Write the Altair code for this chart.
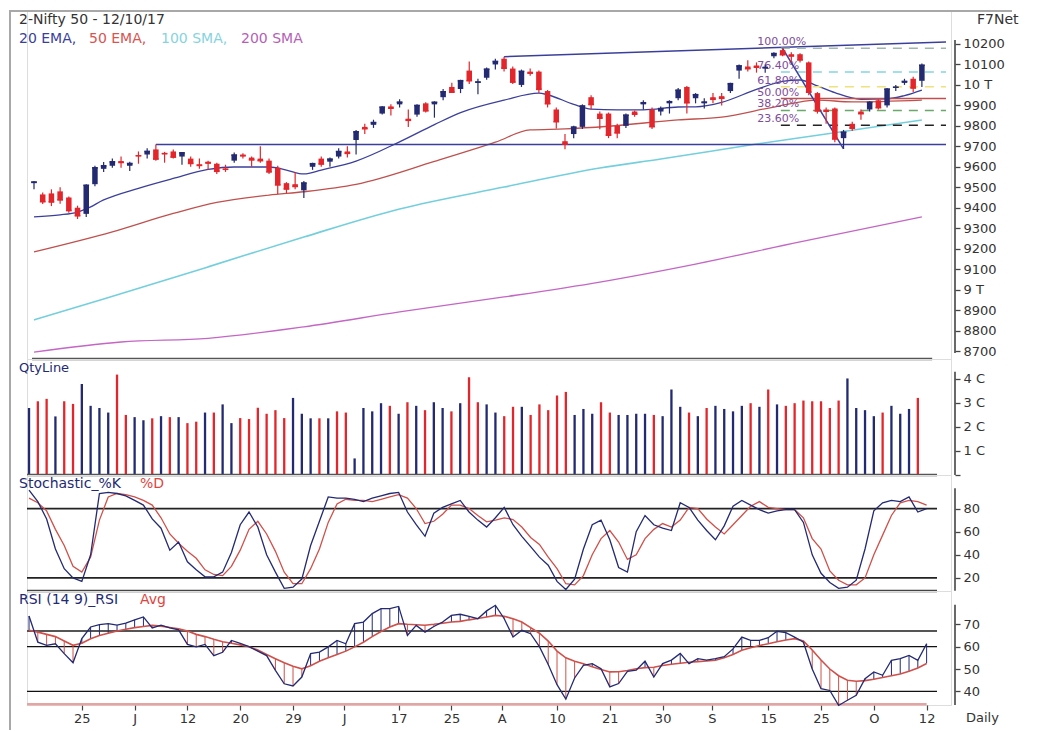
import altair as alt
import pandas as pd

FONT = "DejaVu Sans"
DARK = "#232a72"
RED = "#e3262b"
TXT = "#333333"

# ---------------- data ----------------
opens = [9520, 9465, 9470, 9480, 9450, 9400, 9370, 9515, 9590, 9605,
         9628, 9605, 9656, 9660, 9685, 9668, 9675, 9650, 9640, 9612,
         9625, 9615, 9590, 9630, 9660, 9645, 9640, 9630, 9595, 9520,
         9515, 9485, 9600, 9640, 9625, 9650, 9675, 9731, 9795, 9805,
         9860, 9895, 9905, 9835, 9855, 9910, 9905, 9940, 9990, 9980,
         10070, 10010, 10035, 10100, 10128, 10080, 10000, 10065, 10065, 9970,
         9880, 9725, 9760, 9795, 9940, 9860, 9860, 9800, 9800, 9870,
         9905, 9880, 9870, 9910, 9935, 9990, 9935, 9910, 9940, 9945,
         9970, 10070, 10090, 10095, 10080, 10140, 10170, 10150, 10150, 10110,
         9960, 9880, 9885, 9740, 9810, 9870, 9880, 9925, 9900, 9985,
         10010, 10030, 10020]
highs = [9530, 9475, 9490, 9500, 9455, 9410, 9515, 9605, 9624, 9640,
         9650, 9625, 9675, 9690, 9709, 9673, 9685, 9672, 9650, 9640,
         9630, 9620, 9610, 9670, 9666, 9650, 9700, 9640, 9605, 9525,
         9575, 9530, 9620, 9650, 9645, 9690, 9700, 9780, 9810, 9830,
         9897, 9905, 9930, 9880, 9905, 9915, 9920, 9980, 10011, 10025,
         10114, 10030, 10085, 10128, 10137.85, 10090, 10075, 10080, 10070, 9975,
         9890, 9760, 9800, 9905, 9950, 9870, 9865, 9810, 9860, 9875,
         9925, 9890, 9895, 9925, 9985, 9995, 9960, 9935, 9960, 9960,
         10010, 10100, 10120, 10110, 10100, 10160, 10178.95, 10160, 10155, 10115,
         9965, 9890, 9890, 9780, 9820, 9880, 9920, 9930, 9985, 10000,
         10030, 10040, 10105]
lows = [9490, 9418, 9408, 9420, 9375, 9345, 9355, 9505, 9575, 9595,
        9595, 9580, 9615, 9640, 9630, 9620, 9640, 9610, 9600, 9590,
        9585, 9565, 9575, 9620, 9640, 9600, 9620, 9565, 9467, 9470,
        9490, 9448, 9585, 9600, 9600, 9640, 9645, 9660, 9760, 9790,
        9855, 9850, 9890, 9795, 9845, 9865, 9840, 9925, 9960, 9960,
        10005, 9955, 10025, 10075, 10065, 10005, 9990, 10045, 9960, 9890,
        9787, 9685.55, 9740, 9785, 9880, 9783, 9740, 9740, 9790, 9845,
        9880, 9785, 9850, 9860, 9925, 9860, 9910, 9885, 9910, 9900,
        9960, 10030, 10065, 10060, 10060, 10130, 10140, 10110, 10110, 9950,
        9860, 9810, 9720, 9687.55, 9775, 9830, 9870, 9880, 9890, 9970,
        10000, 9965, 9990]
closes = [9525.75, 9429.45, 9427.90, 9438.25, 9386.15, 9360.55, 9509.75, 9595.10, 9604.90, 9624.55,
          9621.25, 9616.10, 9653.50, 9675.10, 9637.60, 9663.80, 9647.25, 9668.25, 9616.40, 9606.90,
          9618.15, 9578.05, 9588.05, 9657.55, 9653.50, 9633.60, 9630.00, 9574.95, 9511.40, 9491.25,
          9504.10, 9520.90, 9615.00, 9613.30, 9637.60, 9674.55, 9665.80, 9771.05, 9786.05, 9816.10,
          9891.70, 9886.35, 9915.95, 9827.15, 9899.60, 9873.30, 9915.25, 9966.40, 9964.55, 10020.65,
          10020.55, 10014.50, 10077.10, 10114.65, 10081.50, 10013.65, 10066.40, 10057.40, 9978.55, 9908.05,
          9820.25, 9710.80, 9794.15, 9897.30, 9904.15, 9837.40, 9754.35, 9765.55, 9852.50, 9857.05,
          9912.80, 9796.05, 9884.40, 9917.90, 9974.40, 9912.85, 9952.20, 9916.20, 9929.90, 9934.80,
          10006.05, 10093.05, 10079.30, 10086.60, 10085.40, 10153.10, 10147.55, 10141.15, 10121.90, 9964.40,
          9872.60, 9871.50, 9735.75, 9768.95, 9788.60, 9859.50, 9914.90, 9888.70, 9979.70, 9988.75,
          10016.95, 9984.80, 10096.40]

# volume (crore) and up(1)/down(0) colour flag, read per bar
volume = [2.79, 3.07, 3.17, 2.44, 3.07, 2.96, 3.79, 2.88, 2.79, 2.60,
          4.18, 2.50, 2.41, 2.28, 2.36, 2.45, 2.41, 2.41, 2.16, 2.22,
          2.60, 2.60, 2.94, 2.16, 2.37, 2.33, 2.80, 2.55, 2.70, 2.37,
          3.21, 2.55, 2.36, 2.36, 2.36, 2.65, 2.60, 0.69, 2.79, 2.65,
          2.99, 2.88, 2.55, 3.03, 2.88, 2.70, 3.03, 2.79, 2.65, 2.99,
          4.07, 3.03, 2.94, 2.60, 2.45, 2.84, 2.84, 2.50, 2.94, 2.70,
          3.31, 3.46, 2.50, 2.75, 2.55, 3.03, 2.60, 2.50, 2.50, 2.55,
          2.55, 2.50, 2.45, 3.56, 2.84, 2.60, 2.45, 2.79, 2.88, 2.75,
          2.65, 2.88, 2.99, 2.84, 3.56, 2.94, 2.88, 2.99, 3.10, 3.07,
          3.07, 2.79, 3.10, 4.02, 2.79, 2.70, 2.45, 2.60, 2.88, 2.55,
          2.75, 3.21]
vol_up = [1, 0, 0, 1, 0, 0, 1, 1, 1, 1,
          0, 0, 1, 1, 0, 1, 0, 1, 0, 0,
          1, 0, 1, 1, 0, 0, 0, 0, 0, 0,
          1, 1, 1, 0, 1, 0, 0, 1, 1, 1,
          1, 0, 1, 0, 1, 0, 1, 1, 0, 1,
          0, 0, 1, 1, 0, 0, 1, 0, 0, 0,
          0, 0, 1, 1, 1, 0, 0, 1, 1, 1,
          1, 0, 1, 1, 1, 0, 1, 0, 1, 1,
          1, 1, 0, 1, 0, 1, 0, 0, 0, 0,
          0, 0, 0, 1, 1, 1, 1, 0, 1, 1,
          1, 0]

stoch_k = [96, 86, 71, 45, 28, 20, 17, 40, 93, 94,
           93, 91, 87, 83, 71, 63, 44, 51, 34, 27,
           21, 21, 25, 42, 66, 77, 64, 40, 25, 11,
           12, 19, 48, 69, 90, 89, 89, 88, 86, 89,
           91, 93, 94, 77, 66, 56, 76, 81, 84, 87,
           77, 70, 64, 72, 81, 66, 56, 47, 38, 31,
           17, 10, 19, 45, 66, 70, 53, 29, 25, 60,
           74, 66, 63, 61, 85, 81, 70, 61, 53, 65,
           82, 87, 83, 79, 76, 78, 79, 79, 68, 40,
           24, 16, 11, 12, 18, 45, 78, 85, 87, 86,
           90, 77, 80]
stoch_d = [89, 85, 78, 62, 48, 30, 25, 38, 70, 90,
           93, 92, 90, 87, 83, 72, 58, 50, 43, 37,
           27, 23, 22, 30, 44, 62, 69, 58, 43, 25,
           15, 15, 28, 45, 68, 84, 88, 87, 87, 86,
           88, 90, 92, 89, 80, 67, 69, 75, 83, 83,
           80, 74, 68.5, 70, 72, 70.5, 64, 55, 49, 38,
           28, 15, 14, 22, 40, 54, 61, 51, 36, 40,
           54, 62, 67, 64, 70, 81, 80, 71, 64, 58,
           66, 74, 82, 86, 81, 80, 79, 79, 72, 54,
           45, 26, 18, 14, 14, 20, 40, 57, 74, 85,
           87, 86, 83]

rsi = [73.7, 62, 60.6, 61.3, 56.9, 52.8, 63.6, 68.8, 69.9, 70.3,
       69.6, 70.5, 72, 73.3, 68.4, 69.6, 68.4, 67.5, 61, 59.9,
       61, 56, 57.5, 62.8, 61.5, 60, 58, 56, 49.4, 43.4,
       42.4, 46.4, 56.9, 57.6, 59.9, 62.8, 61.3, 70.3, 71, 74.8,
       77, 77, 78, 65, 69.5, 66.5, 69, 71, 74, 74.5,
       73.5, 72.5, 76, 78.5, 72.5, 64.3, 67.3, 65.8, 60, 52,
       43, 36.5, 46, 51.6, 52.4, 50.1, 42, 43.5, 49, 49.5,
       53.5, 46.4, 52.4, 54, 57, 52.4, 54.6, 54, 54.6, 55.5,
       59, 64.3, 62.8, 62.8, 64, 66.9, 66.3, 64.3, 62, 50,
       41.2, 40.4, 33.7, 36, 38.2, 45.7, 48.7, 47.2, 53.9, 54.6,
       56.1, 53.9, 61.3]
rsi_avg = [67.3, 66.5, 65.5, 64.5, 62.5, 60.6, 61.5, 63.5, 65, 66,
           67, 67.8, 68.5, 69, 69.5, 69.2, 68.6, 68, 67, 65.5,
           64.5, 63.3, 62.2, 61.5, 60.8, 60, 58.5, 56.5, 54.6, 52.8,
           51.2, 50.1, 51.5, 53.5, 55, 56.5, 58, 59.9, 62, 64.5,
           66.8, 68.8, 70.3, 70, 69.8, 69.6, 70, 70.5, 71, 71.3,
           72, 72.6, 73.3, 74, 73.6, 72.5, 71, 68.5, 66, 62.5,
           58, 55, 53.5, 52.4, 51, 49.8, 48.7, 48.8, 49.3, 50.1,
           50.6, 50.8, 51.6, 52.1, 52.6, 53, 53.3, 53.6, 53.9, 55,
           56.5, 58.4, 59.5, 60.5, 61.3, 62.2, 63, 63.6, 62.5, 58.5,
           54, 50, 47, 45, 44.5, 44.8, 45.4, 46.2, 47, 47.8,
           49, 50.5, 52.5]

# moving averages, read at sample bars
ema20_i = [0, 3, 5, 6, 8, 12, 16, 20, 23, 27, 29, 31, 33, 37, 42, 46, 49, 54, 58, 59, 62, 64, 67, 70, 74, 76, 79, 83, 86, 88, 90, 92, 95, 98, 100, 102]
ema20_v = [9355, 9365, 9379, 9394, 9438, 9495, 9543, 9587, 9599, 9599, 9584, 9565, 9584, 9628, 9722, 9806, 9865, 9926, 9960, 9952, 9905, 9882, 9878, 9878, 9892, 9893, 9915, 9978, 10017, 10024, 9995, 9962, 9930, 9932, 9948, 9975]
ema50_i = [0, 9, 16, 21, 27, 31, 37, 46, 53, 57, 61, 66, 74, 79, 85, 90, 94, 102]
ema50_v = [9184, 9282, 9372, 9426, 9462, 9478, 9514, 9626, 9720, 9780, 9785, 9798, 9829, 9843, 9892, 9926, 9917, 9926]
sma100_i = [0, 8, 20, 31, 42, 54, 65, 72, 83, 91, 102]
sma100_v = [8852, 8954, 9111, 9257, 9394, 9501, 9594, 9638, 9711, 9760, 9829]
sma200_i = [0, 10, 20, 31, 42, 54, 65, 76, 88, 102]
sma200_v = [8695, 8744, 8762, 8818, 8891, 8964, 9037, 9125, 9233, 9355]

# Fibonacci retracement (low 9687.55 -> high 10178.95)
fib_names = ["100.00%", "76.40%", "61.80%", "50.00%", "38.20%", "23.60%"]
fib_price = [10178.95, 10063.0, 9991.2, 9933.25, 9875.3, 9803.5]
fib_color = ["#9fb8aa", "#86d4e0", "#efe27a", "#c0504d", "#6aa86a", "#222222"]

tick_pos = [6, 12, 18, 24, 30, 35.8, 42, 48, 53.7, 60, 66, 72, 77.6, 84, 90, 96, 102]
tick_lab = ["25", "J", "12", "20", "29", "J", "17", "25", "A", "10", "21", "30", "S", "15", "25", "O", "12"]

# extent of each right-hand axis line (value range it covers)
axis_span_p = [8690, 10220]
axis_span_v = [0, 4.3]
axis_span_s = [9, 97.5]
axis_span_r = [33.9, 78.8]

# ---------------- layout constants ----------------
W = 924
XMIN, XMAX = -0.23, 104.77
XEND = 103.18
H_P, H_V, H_S, H_R = 349, 116, 116, 114
DOM_P = [8661, 10366]
DOM_V = [0, 4.83]
DOM_S = [8.7, 109]
DOM_R = [33.9, 84.9]
AXIS_X = W + 4

n = len(closes)
idx = list(range(n))


def xs(field, axis=None):
    return alt.X(f"{field}:Q", scale=alt.Scale(domain=[XMIN, XMAX], nice=False, zero=False), axis=axis)


def right_axis(values, expr):
    return alt.Axis(orient="right", values=values, labelExpr=expr, title=None, offset=4,
                    tickSize=5, labelPadding=3, grid=False, domain=False, tickColor="#444",
                    tickWidth=1.3, labelFontSize=13, labelColor=TXT, labelFont=FONT)


AX_P = right_axis(list(range(8700, 10201, 100)),
                  "datum.value == 10000 ? '10 T' : datum.value == 9000 ? '9 T' : format(datum.value, 'd')")
AX_V = right_axis([0, 1, 2, 3, 4], "datum.value == 0 ? '' : datum.value + ' C'")
AX_S = right_axis([20, 40, 60, 80], "format(datum.value, 'd')")
AX_R = right_axis([40, 50, 60, 70], "format(datum.value, 'd')")


def ys(field, dom, axis):
    return alt.Y(f"{field}:Q", scale=alt.Scale(domain=dom, nice=False, zero=False), axis=axis)


def txt(text, x, y, color, size=14, align="left"):
    return alt.Chart(pd.DataFrame({"t": [text]})).mark_text(
        align=align, baseline="middle", fontSize=size, font=FONT, color=color
    ).encode(x=alt.value(x), y=alt.value(y), text="t:N")


def frame_left(h):
    return alt.Chart(pd.DataFrame({"t": [0]})).mark_rule(color="#a8a8a8", strokeWidth=2).encode(
        x=alt.value(-17), y=alt.value(0), y2=alt.value(h))


def axis_line(span, dom, axis, xf=xs):
    df = pd.DataFrame({"a": [span[0]], "b": [span[1]]})
    return alt.Chart(df).mark_rule(color="#444444", strokeWidth=1.6).encode(
        x=alt.value(AXIS_X), y=ys("a", dom, axis), y2="b")


def hline(vals, dom, axis, color, width, x1=XMIN, x2=XEND, xf=xs):
    df = pd.DataFrame({"y": vals, "x1": [x1] * len(vals), "x2": [x2] * len(vals)})
    return alt.Chart(df).mark_rule(color=color, strokeWidth=width).encode(
        x=xf("x1"), x2=alt.X2("x2"), y=ys("y", dom, axis))


# ---------------- price panel ----------------
cdf = pd.DataFrame({"i": idx, "o": opens, "h": highs, "l": lows, "c": closes})
cdf["col"] = [DARK if c >= o else RED for o, c in zip(opens, closes)]
cdf["xl"] = cdf["i"] - 0.33
cdf["xr"] = cdf["i"] + 0.33

wick = alt.Chart(cdf).mark_rule(strokeWidth=1.2).encode(
    x=xs("i"), y=ys("l", DOM_P, AX_P), y2="h", color=alt.Color("col:N", scale=None))
body = alt.Chart(cdf).mark_bar(size=5.5).encode(
    x=xs("i"), y=ys("o", DOM_P, AX_P), y2="c", color=alt.Color("col:N", scale=None))
doji = alt.Chart(cdf).mark_rule(strokeWidth=1.6).encode(
    x=xs("xl"), x2="xr", y=ys("c", DOM_P, AX_P), color=alt.Color("col:N", scale=None))


def ma_line(ii, vv, color, width=1.3):
    return alt.Chart(pd.DataFrame({"i": ii, "v": vv})).mark_line(
        color=color, strokeWidth=width, interpolate="monotone").encode(x=xs("i"), y=ys("v", DOM_P, AX_P))


lines = [
    ma_line(sma200_i, sma200_v, "#c466c4"),
    ma_line(sma100_i, sma100_v, "#74cfdd", 1.6),
    ma_line(ema50_i, ema50_v, "#c0504d"),
    ma_line(ema20_i, ema20_v, "#3b3f9c"),
]

trend = pd.DataFrame({"i": [54, XMAX], "v": [10137.85, 10210]})
trend_line = alt.Chart(trend).mark_line(color="#3b3f9c", strokeWidth=1.5).encode(
    x=xs("i"), y=ys("v", DOM_P, AX_P))
diag = pd.DataFrame({"i": [86, 93], "v": [10178.95, 9687.55]})
diag_line = alt.Chart(diag).mark_line(color="#3b3f9c", strokeWidth=1.5).encode(
    x=xs("i"), y=ys("v", DOM_P, AX_P))
support = hline([9709.3], DOM_P, AX_P, "#3b3f9c", 1.5, x1=14, x2=XMAX)

fdf = pd.DataFrame({"name": fib_names, "v": fib_price, "col": fib_color,
                    "x1": [85.8] * 6, "x2": [XMAX] * 6, "lx": [83.1] * 6})
fib_dash = alt.Chart(fdf[fdf["name"] != "50.00%"]).mark_rule(strokeWidth=1.5, strokeDash=[9, 7]).encode(
    x=xs("x1"), x2="x2", y=ys("v", DOM_P, AX_P), color=alt.Color("col:N", scale=None))
fib_solid = alt.Chart(fdf[fdf["name"] == "50.00%"]).mark_rule(strokeWidth=1.5).encode(
    x=xs("x1"), x2="x2", y=ys("v", DOM_P, AX_P), color=alt.Color("col:N", scale=None))
fib_text = alt.Chart(fdf).mark_text(align="left", baseline="bottom", dy=-1, fontSize=11, font=FONT,
                                    color="#7d4d9b").encode(
    x=xs("lx"), y=ys("v", DOM_P, AX_P), text="name:N")

sep_p = hline([DOM_P[0]], DOM_P, AX_P, "#555555", 2.5)

price = alt.layer(
    *lines, support, trend_line, fib_dash, fib_solid, fib_text, diag_line,
    wick, body, doji, sep_p, axis_line(axis_span_p, DOM_P, AX_P),
    txt("2-Nifty 50 - 12/10/17", -8, 10, TXT),
    txt("20 EMA,", -8, 29, "#3b3f9c"),
    txt("50 EMA,", 62, 29, "#d9534f"),
    txt("100 SMA,", 134, 29, "#86d3df"),
    txt("200 SMA", 214, 29, "#b55fb5"),
    txt("F7Net", 950, 10, TXT),
    frame_left(H_P),
    alt.Chart(pd.DataFrame({"t": [0]})).mark_rule(color="#a8a8a8", strokeWidth=2).encode(
        x=alt.value(-17), x2=alt.value(985), y=alt.value(1)),
).properties(width=W, height=H_P)

# ---------------- volume panel ----------------
vdf = pd.DataFrame({"i": list(range(len(volume))), "v": volume})
vdf["col"] = [DARK if u else RED for u in vol_up[:len(volume)]]
vdf["z"] = 0.0
vol_bars = alt.Chart(vdf).mark_rule(strokeWidth=2.3).encode(
    x=xs("i"), y=ys("z", DOM_V, AX_V), y2="v", color=alt.Color("col:N", scale=None))
sep_v = hline([DOM_V[0]], DOM_V, AX_V, "#555555", 2.5)
volp = alt.layer(vol_bars, sep_v, axis_line(axis_span_v, DOM_V, AX_V),
                 txt("QtyLine", -8, 9, DARK, 13), frame_left(H_V)).properties(width=W, height=H_V)

# ---------------- stochastic panel ----------------
sdf = pd.DataFrame({"i": idx, "k": stoch_k, "d": stoch_d})
s_ref = hline([80, 20], DOM_S, AX_S, "#222222", 1.8)
sep_s = hline([DOM_S[0]], DOM_S, AX_S, "#444444", 2.5)
k_line = alt.Chart(sdf).mark_line(color=DARK, strokeWidth=1.3).encode(x=xs("i"), y=ys("k", DOM_S, AX_S))
d_line = alt.Chart(sdf).mark_line(color="#d0504a", strokeWidth=1.3).encode(x=xs("i"), y=ys("d", DOM_S, AX_S))
stoch = alt.layer(s_ref, sep_s, d_line, k_line, axis_line(axis_span_s, DOM_S, AX_S),
                  txt("Stochastic_%K", -8, 9, DARK, 14),
                  txt("%D", 113, 9, "#e0443e", 14),
                  frame_left(H_S)).properties(width=W, height=H_S)

# ---------------- RSI panel ----------------
labexpr = "[" + ",".join(f"'{t}'" for t in tick_lab) + "][indexof([" + ",".join(str(p) for p in tick_pos) + "], datum.value)]"
AX_X = alt.Axis(values=tick_pos, labelExpr=labexpr, domain=False, ticks=True, tickSize=5, tickColor="#444",
                tickWidth=1.2, labelFontSize=13, labelColor=TXT, labelFont=FONT, labelPadding=2,
                grid=False, title=None, labelOverlap=False, labelFlush=False, labelBound=False)


def xr(field):
    return xs(field, AX_X)


rdf = pd.DataFrame({"i": idx, "r": rsi, "a": rsi_avg})
rdf["col"] = [DARK if r >= a else "#d0504a" for r, a in zip(rsi, rsi_avg)]
hatch = alt.Chart(rdf).mark_rule(strokeWidth=1).encode(
    x=xr("i"), y=ys("r", DOM_R, AX_R), y2="a", color=alt.Color("col:N", scale=None))
r_line = alt.Chart(rdf).mark_line(color=DARK, strokeWidth=1.3).encode(x=xr("i"), y=ys("r", DOM_R, AX_R))
a_line = alt.Chart(rdf).mark_line(color="#d0504a", strokeWidth=1.6).encode(x=xr("i"), y=ys("a", DOM_R, AX_R))

r67 = hline([67], DOM_R, AX_R, "#555555", 2.2, xf=xr)
r_ref = hline([60, 40], DOM_R, AX_R, "#111111", 1.4, xf=xr)
r_base = hline([DOM_R[0] + 0.3], DOM_R, AX_R, "#e6a3a3", 2.5, x2=102, xf=xr)
r_axis = alt.Chart(pd.DataFrame({"a": [axis_span_r[0]], "b": [axis_span_r[1]]})).mark_rule(
    color="#444444", strokeWidth=1.6).encode(x=alt.value(AXIS_X), y=ys("a", DOM_R, AX_R), y2="b")
rsip = alt.layer(r67, r_ref, r_base, hatch, a_line, r_line, r_axis,
                 txt("RSI (14 9)_RSI", -8, 9, DARK, 14),
                 txt("Avg", 113, 9, "#e0443e", 14),
                 txt("Daily", 939, 127, TXT, 13),
                 frame_left(H_R + 25)).properties(width=W, height=H_R)

chart = alt.vconcat(price, volp, stoch, rsip, spacing=0, bounds="flush").properties(
    padding={"left": 0, "top": 0, "right": 0, "bottom": 0}, background="white"
).configure_view(stroke=None).configure(font=FONT)

chart.save("out.html", embed_options={"renderer": "svg", "actions": False})
